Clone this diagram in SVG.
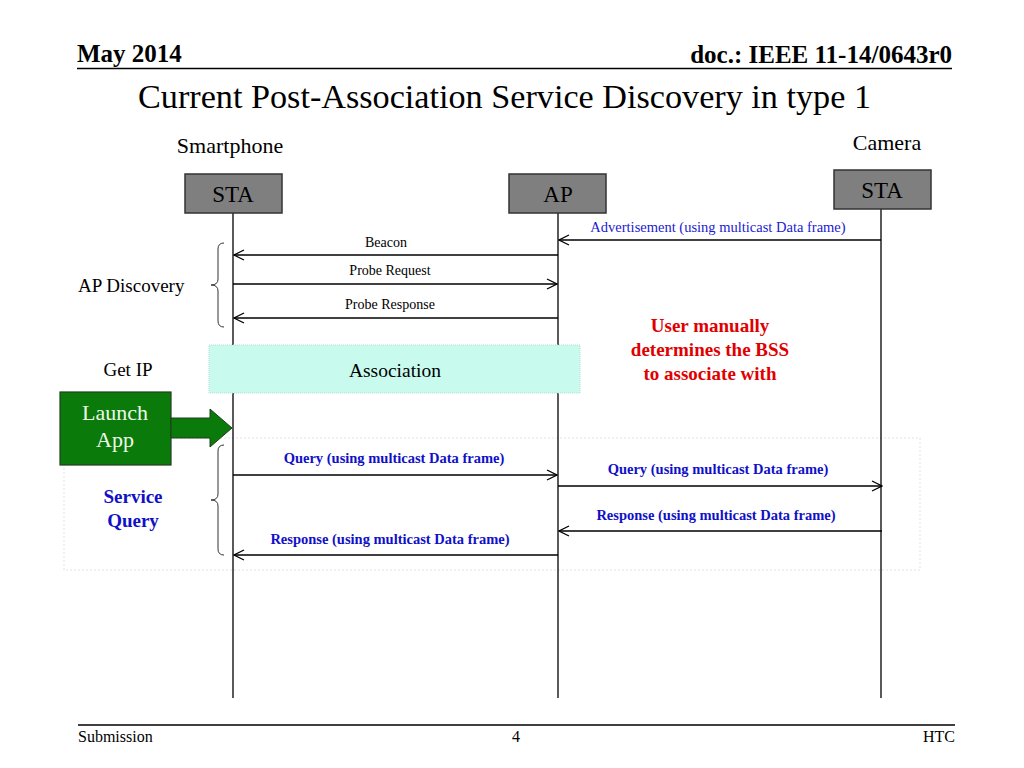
<svg xmlns="http://www.w3.org/2000/svg" width="1024" height="768" viewBox="0 0 1024 768">
<style>
text{font-family:"Liberation Serif","Times New Roman",serif;fill:#000}
.hdr{font-weight:bold;font-size:25px}
.lbl{font-size:22px}
.box{fill:#7f7f7f;stroke:#333;stroke-width:1.5}
.boxt{font-size:23px;text-anchor:middle}
.life{stroke:#000;stroke-width:1.3;fill:none}
.msg{stroke:#000;stroke-width:1.3;fill:none;marker-end:url(#arr)}
.mt{font-size:14px;text-anchor:middle}
.bt{font-size:14.5px;text-anchor:middle;fill:#1010c8;font-weight:bold}
.at{font-size:14.5px;text-anchor:middle;fill:#1a1ad0}
.brace{stroke:#333;stroke-width:1;fill:none}
.side{font-size:19px}
.red{font-size:19px;font-weight:bold;fill:#e00000;text-anchor:middle}
.ft{font-size:16px}
</style>
<defs>
<marker id="arr" viewBox="0 0 12 12" refX="11" refY="6" markerWidth="12" markerHeight="12" markerUnits="userSpaceOnUse" orient="auto">
<path d="M1,1 L11,6 L1,11" fill="none" stroke="#000" stroke-width="1.3"/>
</marker>
</defs>
<rect width="1024" height="768" fill="#fff"/>

<g id="header">
<text class="hdr" x="77" y="62">May 2014</text>
<text class="hdr" x="952" y="63" text-anchor="end">doc.: IEEE 11-14/0643r0</text>
<line x1="77" y1="68.5" x2="952" y2="68.5" stroke="#000" stroke-width="1.5"/>
<text x="138" y="108" font-size="34" textLength="733" lengthAdjust="spacingAndGlyphs">Current Post-Association Service Discovery in type 1</text>
</g>

<g id="service-query-area">
<rect x="64" y="438" width="856" height="132" fill="none" stroke="#e2e2e2" stroke-width="1" stroke-dasharray="2,2"/>
</g>

<g id="lifelines">
<line class="life" x1="233" y1="213" x2="233" y2="698"/>
<line class="life" x1="558" y1="213" x2="558" y2="698"/>
<line class="life" x1="881" y1="209" x2="881" y2="698"/>
</g>

<g id="smartphone-sta">
<text class="lbl" x="230" y="153" text-anchor="middle">Smartphone</text>
<rect class="box" x="185" y="174" width="97" height="39"/>
<text class="boxt" x="233" y="202">STA</text>
</g>

<g id="ap">
<rect class="box" x="509" y="174" width="97" height="39"/>
<text class="boxt" x="558" y="202">AP</text>
</g>

<g id="camera-sta">
<text class="lbl" x="887" y="150" text-anchor="middle">Camera</text>
<rect class="box" x="834" y="170" width="97" height="39"/>
<text class="boxt" x="882" y="198">STA</text>
</g>

<g id="connectors">
<line class="msg" x1="881" y1="240" x2="559" y2="240"/>
<text class="at" x="718" y="232">Advertisement (using multicast Data frame)</text>
<line class="msg" x1="558" y1="255" x2="234" y2="255"/>
<text class="mt" x="386" y="247">Beacon</text>
<line class="msg" x1="233" y1="284" x2="557" y2="284"/>
<text class="mt" x="390" y="275">Probe Request</text>
<line class="msg" x1="558" y1="318" x2="234" y2="318"/>
<text class="mt" x="390" y="309">Probe Response</text>

<line class="msg" x1="233" y1="475" x2="557" y2="475"/>
<text class="bt" x="394" y="463">Query (using multicast Data frame)</text>
<line class="msg" x1="558" y1="486" x2="882" y2="486"/>
<text class="bt" x="718" y="474">Query (using multicast Data frame)</text>
<line class="msg" x1="882" y1="531" x2="559" y2="531"/>
<text class="bt" x="716" y="520">Response (using multicast Data frame)</text>
<line class="msg" x1="558" y1="555" x2="234" y2="555"/>
<text class="bt" x="390" y="544">Response (using multicast Data frame)</text>
</g>

<g id="ap-discovery">
<path class="brace" d="M224,243 Q218,243 218,249 L218,279 Q218,285 211,285 Q218,285 218,291 L218,321 Q218,327 224,327"/>
<text class="side" x="78" y="292">AP Discovery</text>
</g>

<g id="get-ip">
<text class="side" x="128" y="376" text-anchor="middle">Get IP</text>
</g>

<g id="association">
<rect x="209" y="345" width="371" height="48" fill="#c8fbee" stroke="#b5dcd2" stroke-width="1" stroke-dasharray="1,1"/>
<text x="395" y="377" font-size="19.5" text-anchor="middle">Association</text>
</g>

<g id="user-note">
<text class="red" x="710" y="332">User manually</text>
<text class="red" x="710" y="356">determines the BSS</text>
<text class="red" x="710" y="380">to associate with</text>
</g>

<g id="launch-app">
<rect x="60" y="392" width="111" height="73" fill="#0a7a0a" stroke="#1e3f1e" stroke-width="1.2"/>
<path d="M171,418 L210,418 L210,409 L232,428 L210,447 L210,438 L171,438 Z" fill="#0a7a0a" stroke="#1e3f1e" stroke-width="1"/>
<text x="115" y="420" font-size="22" text-anchor="middle" style="fill:#eef8e8">Launch</text>
<text x="115" y="447" font-size="22" text-anchor="middle" style="fill:#eef8e8">App</text>
</g>

<g id="service-query">
<path class="brace" d="M224,445 Q218,445 218,451 L218,494 Q218,500 211,500 Q218,500 218,506 L218,549 Q218,555 224,555"/>
<text x="133" y="503" font-size="19" font-weight="bold" text-anchor="middle" style="fill:#1010c8">Service</text>
<text x="133" y="527" font-size="19" font-weight="bold" text-anchor="middle" style="fill:#1010c8">Query</text>
</g>

<g id="footer">
<line x1="78" y1="725" x2="955" y2="725" stroke="#000" stroke-width="1.5"/>
<text class="ft" x="78" y="742">Submission</text>
<text class="ft" x="516" y="742" text-anchor="middle">4</text>
<text class="ft" x="955" y="742" text-anchor="end">HTC</text>
</g>
</svg>
